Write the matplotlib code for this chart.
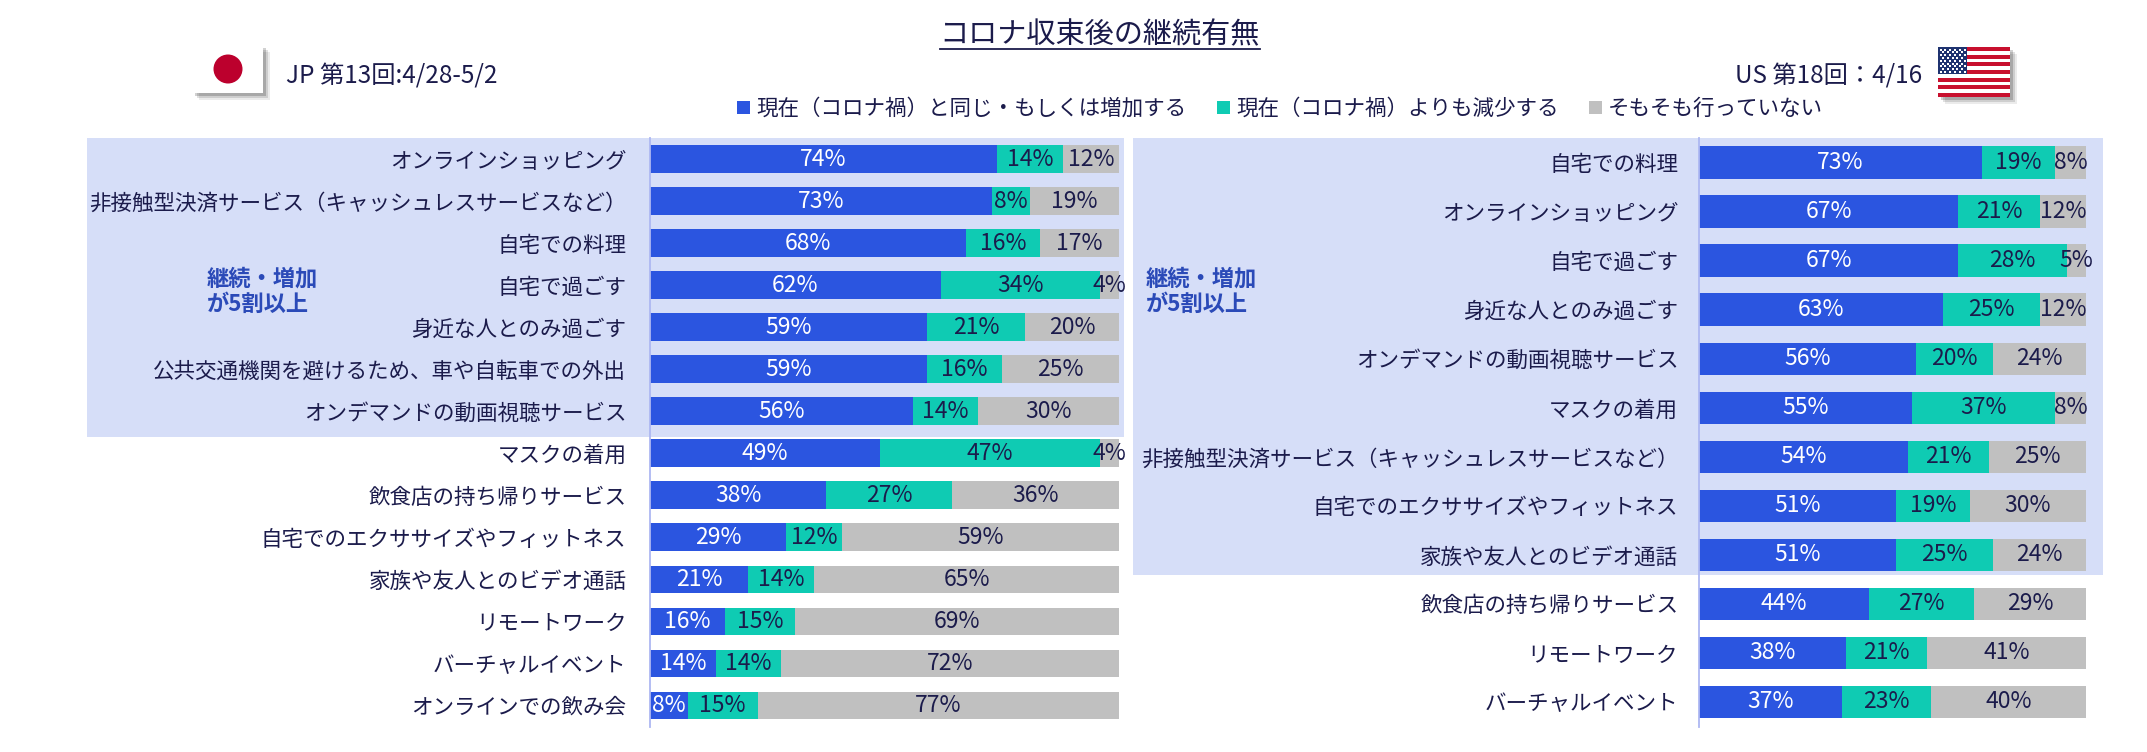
import numpy as np
import matplotlib
matplotlib.use("Agg")
import matplotlib.pyplot as plt
from matplotlib.patches import Rectangle, Patch, Circle
from matplotlib.lines import Line2D
import matplotlib.transforms as mtransforms

plt.rcParams['font.family'] = ['Noto Sans CJK JP', 'DejaVu Sans']

# --- data -------------------------------------------------------------
series_names = ['現在（コロナ禍）と同じ・もしくは増加する',
                '現在（コロナ禍）よりも減少する',
                'そもそも行っていない']

jp_labels = ['オンラインショッピング',
             '非接触型決済サービス（キャッシュレスサービスなど）',
             '自宅での料理', '自宅で過ごす', '身近な人とのみ過ごす',
             '公共交通機関を避けるため、車や自転車での外出',
             'オンデマンドの動画視聴サービス', 'マスクの着用',
             '飲食店の持ち帰りサービス', '自宅でのエクササイズやフィットネス',
             '家族や友人とのビデオ通話', 'リモートワーク', 'バーチャルイベント',
             'オンラインでの飲み会']
jp_same = [74, 73, 68, 62, 59, 59, 56, 49, 38, 29, 21, 16, 14, 8]
jp_less = [14, 8, 16, 34, 21, 16, 14, 47, 27, 12, 14, 15, 14, 15]
jp_none = [12, 19, 17, 4, 20, 25, 30, 4, 36, 59, 65, 69, 72, 77]

us_labels = ['自宅での料理', 'オンラインショッピング', '自宅で過ごす',
             '身近な人とのみ過ごす', 'オンデマンドの動画視聴サービス',
             'マスクの着用', '非接触型決済サービス（キャッシュレスサービスなど）',
             '自宅でのエクササイズやフィットネス', '家族や友人とのビデオ通話',
             '飲食店の持ち帰りサービス', 'リモートワーク', 'バーチャルイベント']
us_same = [73, 67, 67, 63, 56, 55, 54, 51, 51, 44, 38, 37]
us_less = [19, 21, 28, 25, 20, 37, 21, 19, 25, 27, 21, 23]
us_none = [8, 12, 5, 12, 24, 8, 25, 30, 24, 29, 41, 40]

title = 'コロナ収束後の継続有無'
jp_wave = 'JP 第13回:4/28-5/2'
us_wave = 'US 第18回：4/16'
group_note = '継続・増加\nが5割以上'

# --- style ------------------------------------------------------------
BLUE = '#2B55E0'
TEAL = '#0FCBB3'
GRAY = '#C0C0C0'
SHADE = '#D6DEF8'
NAVY = '#1B1B4B'
NOTE = '#2B4AB8'
SPINE = '#AEB8F2'

W, H = 2147, 752
fig = plt.figure(figsize=(W / 100, H / 100), dpi=100)
fig.patch.set_facecolor('white')


def fx(px):
    return px / W


def fy(py):
    return 1 - py / H


def draw_panel(ax, labels, same, less, none, bar_h, pad, shade_x, shade_bottom, note_x):
    same = np.array(same, float)
    less = np.array(less, float)
    none = np.array(none, float)
    total = same + less + none
    parts = [same / total * 100, less / total * 100, none / total * 100]
    raw = [same, less, none]
    colors = [BLUE, TEAL, GRAY]
    txt_colors = ['white', NAVY, NAVY]
    n = len(labels)
    y = np.arange(n)
    left = np.zeros(n)
    for p, r, c, tc in zip(parts, raw, colors, txt_colors):
        ax.barh(y, p, left=left, height=bar_h, color=c, zorder=2)
        for yi, li, pi, ri in zip(y, left, p, r):
            ax.text(li + pi / 2, yi, f'{int(ri)}%', ha='center', va='center',
                    fontsize=16.5, color=tc, zorder=3)
        left = left + p
    ax.set_xlim(0, 100)
    ax.set_ylim(n - 0.5, -0.5)
    ax.set_yticks(y)
    ax.set_yticklabels(labels, fontsize=15.5, color=NAVY)
    ax.tick_params(axis='y', length=0, pad=pad)
    ax.set_xticks([])
    for s in ['top', 'right', 'bottom']:
        ax.spines[s].set_visible(False)
    ax.spines['left'].set_color(SPINE)
    ax.spines['left'].set_linewidth(1.3)
    ax.spines['left'].set_zorder(4)
    ax.patch.set_visible(False)

    # highlight rows where "same or more" is at least 50%
    n_top = int((same >= 50).sum())
    trans = mtransforms.blended_transform_factory(fig.transFigure, ax.transData)
    ax.add_patch(Rectangle((fx(shade_x[0]), -0.5), fx(shade_x[1] - shade_x[0]),
                           n_top + shade_bottom, transform=trans,
                           facecolor=SHADE, edgecolor='none', zorder=0, clip_on=False))
    fig.text(fx(note_x), fy(292), group_note, ha='left', va='center', fontsize=16,
             color=NOTE, fontweight='bold', linespacing=1.15, zorder=3)


ax_bottom = fy(726.5)
ax_height = (726.5 - 138) / H

ax_jp = fig.add_axes([fx(650), ax_bottom, fx(1119 - 650), ax_height])
draw_panel(ax_jp, jp_labels, jp_same, jp_less, jp_none, bar_h=0.66, pad=17,
           shade_x=(87, 1124), shade_bottom=0.12, note_x=207)

ax_us = fig.add_axes([fx(1699), ax_bottom, fx(2086 - 1699), ax_height])
draw_panel(ax_us, us_labels, us_same, us_less, us_none, bar_h=0.66, pad=15,
           shade_x=(1133, 2103), shade_bottom=-0.09, note_x=1146)

# --- header -----------------------------------------------------------
t = fig.text(fx(1100), fy(35), title, ha='center', va='center', fontsize=21, color=NAVY)
fig.canvas.draw()
bb = t.get_window_extent(fig.canvas.get_renderer())
fig.add_artist(Line2D([bb.x0 / W, bb.x1 / W], [fy(49), fy(49)], color=NAVY, lw=1.3))

fig.text(fx(286), fy(77), jp_wave, ha='left', va='center', fontsize=17.5, color=NAVY)
fig.text(fx(1922), fy(77), us_wave, ha='right', va='center', fontsize=17.5, color=NAVY)

handles = [Patch(facecolor=c, edgecolor='none') for c in [BLUE, TEAL, GRAY]]
fig.legend(handles, series_names, loc='center left', bbox_to_anchor=(fx(737), fy(109)),
           ncol=3, frameon=False, fontsize=15.5, handlelength=0.6, handleheight=0.6,
           handletextpad=0.3, columnspacing=1.4, borderpad=0, borderaxespad=0,
           labelcolor=NAVY)


# --- flags ------------------------------------------------------------
def flag_axes(x0, y0, x1, y1):
    a = fig.add_axes([fx(x0 - 2), fy(y1 + 10), fx(x1 - x0 + 14), (y1 - y0 + 12) / H])
    a.set_xlim(x0 - 2, x1 + 12)
    a.set_ylim(y1 + 10, y0 - 2)
    a.axis('off')
    for k, al in [(7, 0.08), (5, 0.12), (3, 0.18)]:
        a.add_patch(Rectangle((x0 + k, y0 + k), x1 - x0, y1 - y0,
                              facecolor='black', alpha=al, edgecolor='none'))
    return a


a = flag_axes(192, 45, 263, 93)
a.add_patch(Rectangle((192, 45), 71, 48, facecolor='white', edgecolor='none'))
a.add_patch(Circle((228, 69), 14.5, facecolor='#BC002D', edgecolor='none'))

a = flag_axes(1938, 47, 2010, 97)
a.add_patch(Rectangle((1938, 47), 72, 50, facecolor='white', edgecolor='none'))
sh = 50 / 13
for i in range(0, 13, 2):
    a.add_patch(Rectangle((1938, 47 + i * sh), 72, sh, facecolor='#C8102E', edgecolor='none'))
a.add_patch(Rectangle((1938, 47), 29, 7 * sh, facecolor='#1F3370', edgecolor='none'))
sx, sy = [], []
for r in range(9):
    cols = 6 if r % 2 == 0 else 5
    for c in range(cols):
        sx.append(1940.5 + (c + (0 if r % 2 == 0 else 0.5)) * 4.8)
        sy.append(49.5 + r * 2.8)
a.scatter(sx, sy, s=1.5, color='white', marker='s', linewidths=0)

fig.savefig('out.png', dpi=100)
